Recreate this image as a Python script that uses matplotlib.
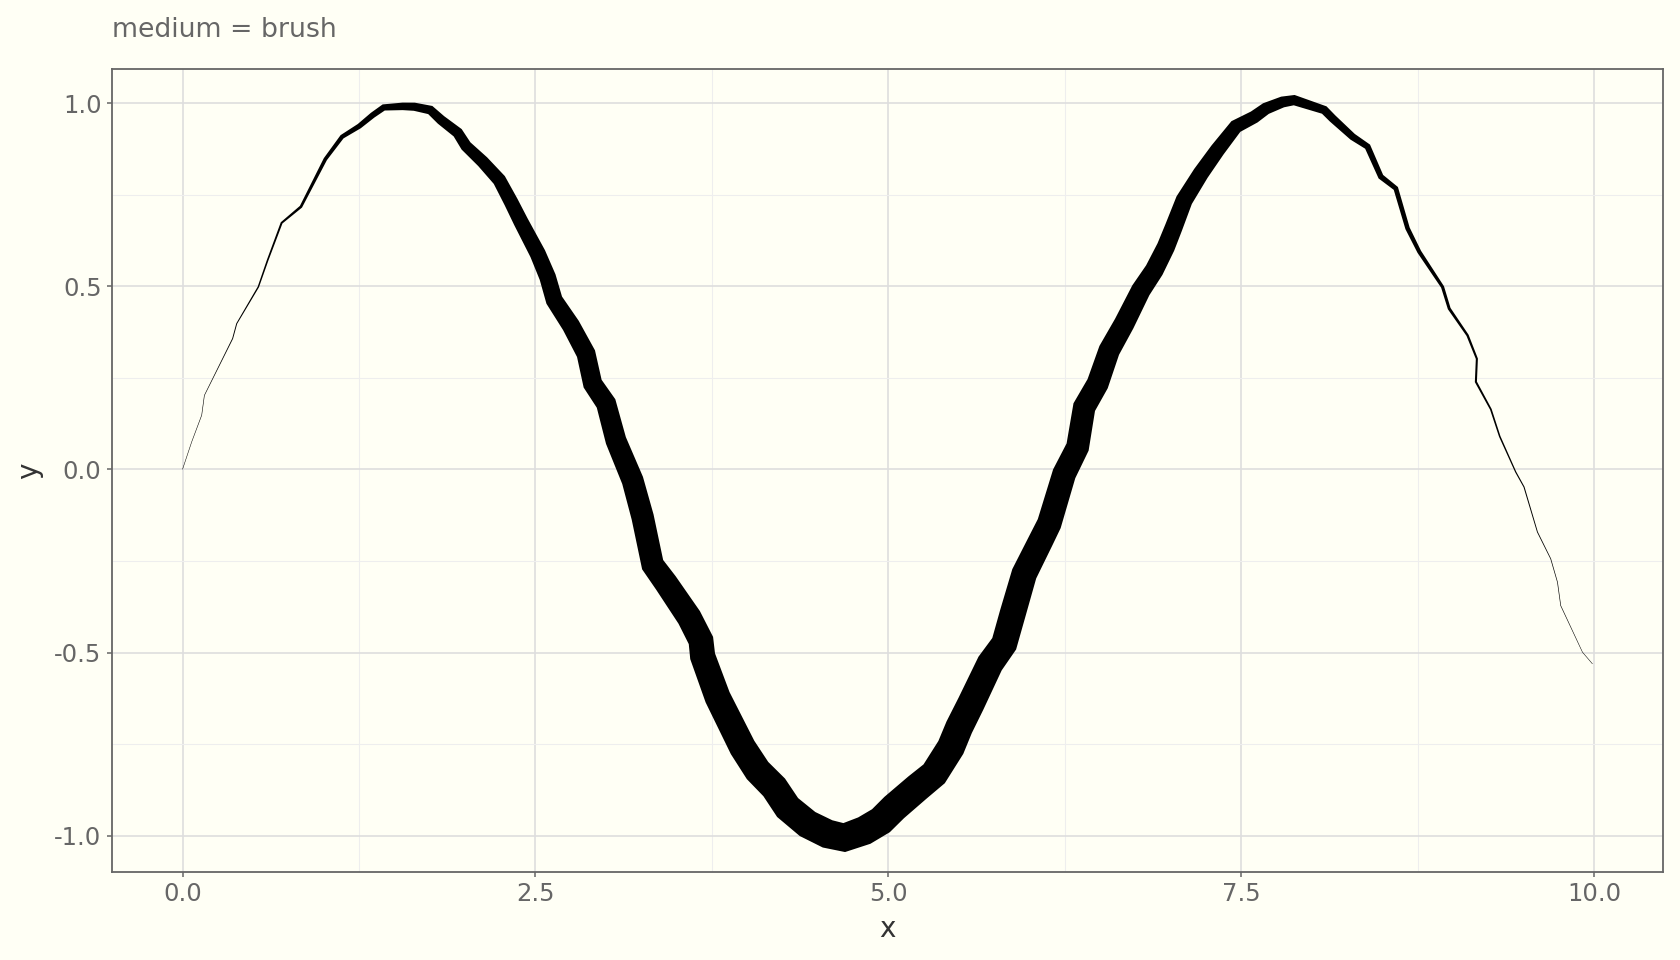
import numpy as np
import matplotlib.pyplot as plt
from matplotlib.ticker import MultipleLocator, FixedLocator

# path points (noisy sine wave)
x_vals = [0.000, 0.065, 0.136, 0.155, 0.355, 0.384, 0.537, 0.603, 0.702, 0.839,
          1.012, 1.130, 1.252, 1.347, 1.425, 1.559, 1.642, 1.755, 1.831, 1.949,
          2.008, 2.126, 2.244, 2.327, 2.397, 2.516, 2.586, 2.633, 2.751, 2.858,
          2.905, 3.000, 3.070, 3.188, 3.259, 3.330, 3.424, 3.589, 3.672, 3.684,
          3.790, 3.967, 4.073, 4.191, 4.286, 4.427, 4.569, 4.687, 4.829, 4.947,
          5.041, 5.207, 5.324, 5.442, 5.501, 5.584, 5.720, 5.820, 5.880, 5.962,
          6.080, 6.139, 6.245, 6.340, 6.387, 6.482, 6.564, 6.670, 6.788, 6.883,
          6.965, 7.020, 7.095, 7.213, 7.331, 7.461, 7.591, 7.674, 7.792, 7.874,
          8.087, 8.146, 8.288, 8.394, 8.488, 8.594, 8.677, 8.760, 8.925, 8.972,
          9.102, 9.168, 9.161, 9.267, 9.330, 9.443, 9.502, 9.597, 9.691, 9.739,
          9.762, 9.916, 9.987]
y_vals = [0.000, 0.075, 0.148, 0.202, 0.357, 0.398, 0.498, 0.571, 0.673, 0.717,
          0.847, 0.908, 0.937, 0.967, 0.988, 0.991, 0.990, 0.981, 0.954, 0.919,
          0.883, 0.840, 0.790, 0.730, 0.676, 0.589, 0.525, 0.462, 0.393, 0.316,
          0.234, 0.180, 0.079, -0.030, -0.130, -0.260, -0.310, -0.404, -0.467, -0.510,
          -0.622, -0.759, -0.822, -0.868, -0.923, -0.968, -0.995, -1.005, -0.986, -0.959,
          -0.923, -0.868, -0.831, -0.759, -0.704, -0.640, -0.530, -0.476, -0.394, -0.285,
          -0.194, -0.148, -0.012, 0.061, 0.170, 0.234, 0.325, 0.398, 0.489, 0.544,
          0.607, 0.660, 0.735, 0.808, 0.872, 0.936, 0.962, 0.985, 1.003, 1.008,
          0.981, 0.958, 0.908, 0.881, 0.799, 0.767, 0.658, 0.594, 0.498, 0.439,
          0.366, 0.302, 0.239, 0.164, 0.090, -0.007, -0.048, -0.171, -0.244, -0.308,
          -0.372, -0.499, -0.531]

x_ticks = [0.0, 2.5, 5.0, 7.5, 10.0]
y_ticks = [-1.0, -0.5, 0.0, 0.5, 1.0]
title = 'medium = brush'

bg = '#fffff5'
W, H = 1680, 960
fig = plt.figure(figsize=(W / 100, H / 100), dpi=100, facecolor=bg)
ax = fig.add_axes([112 / W, 1 - 872 / H, (1663 - 112) / W, (872 - 69) / H])
ax.set_facecolor(bg)

x = np.array(x_vals)
y = np.array(y_vals)
xr = x.max() - x.min()
ax.set_xlim(x.min() - 0.05 * xr, x.max() + 0.05 * xr)
ax.set_ylim(-1.099, 1.093)

# grid
ax.xaxis.set_major_locator(FixedLocator(x_ticks))
ax.yaxis.set_major_locator(FixedLocator(y_ticks))
ax.xaxis.set_minor_locator(MultipleLocator(1.25))
ax.yaxis.set_minor_locator(MultipleLocator(0.25))
ax.grid(True, which='major', color='#dedede', lw=1.2)
ax.grid(True, which='minor', color='#eeeeee', lw=0.8)
ax.set_axisbelow(True)
ax.set_xticklabels(['%.1f' % v for v in x_ticks])
ax.set_yticklabels(['%.1f' % v for v in y_ticks])
ax.tick_params(which='major', length=3.5, width=1.1, color='#666666',
               labelsize=17.5, labelcolor='#666666', pad=4)
ax.tick_params(which='minor', length=0)
for s in ax.spines.values():
    s.set_color('#666666')
    s.set_linewidth(1.3)

ax.set_xlabel('x', fontsize=20, color='#333333', labelpad=6)
ax.set_ylabel('y', fontsize=20, color='#333333', labelpad=8)
fig.text(112 / W, 1 - 30 / H, title, fontsize=19.3, color='#666666',
         ha='left', va='center')

# brush stroke: width varies along the path, built in pixel space
pts = ax.transData.transform(np.column_stack([x, y]))
seg = np.diff(pts, axis=0)
seg = seg / np.linalg.norm(seg, axis=1)[:, None]
tang = np.zeros_like(pts)
tang[0] = seg[0]
tang[-1] = seg[-1]
tang[1:-1] = seg[:-1] + seg[1:]
tang = tang / np.linalg.norm(tang, axis=1)[:, None]
norm = np.column_stack([-tang[:, 1], tang[:, 0]])
t = (x - x.min()) / xr
width_px = 0.5 + 30 * np.sin(np.pi * t) ** 2 * (1.1 - 0.3 * t)
left = pts + norm * width_px[:, None] / 2
right = pts - norm * width_px[:, None] / 2
poly = np.vstack([left, right[::-1]])
poly = ax.transData.inverted().transform(poly)
ax.fill(poly[:, 0], poly[:, 1], color='black', lw=0, zorder=3)

fig.savefig('out.png', dpi=100, facecolor=bg)
